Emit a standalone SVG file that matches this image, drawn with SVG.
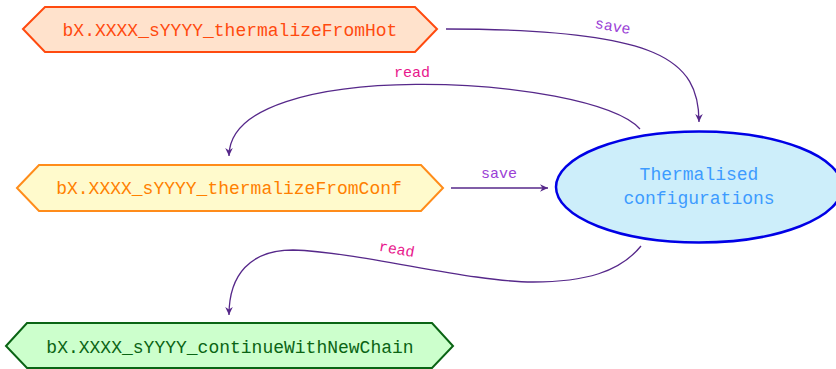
<svg xmlns="http://www.w3.org/2000/svg" width="836" height="369" viewBox="0 0 836 369">
<style>
.mono{font-family:"Liberation Mono","DejaVu Sans Mono",monospace;}
.ntext{font-size:18px;text-anchor:middle;}
.conn{fill:none;stroke:#56288a;stroke-width:1.3;marker-end:url(#arr);}
.save{fill:#9b3fd6;font-size:15px;text-anchor:middle;}
.read{fill:#e8188c;font-size:15px;text-anchor:middle;}
</style>
<defs>
<marker id="arr" markerUnits="userSpaceOnUse" markerWidth="12" markerHeight="10" viewBox="-10 -5 12 10" refX="0" refY="0" orient="auto">
<path d="M0,0 L-8,-3.8 L-5.5,0 L-8,3.8 Z" fill="#56288a"/>
</marker>
</defs>
<rect width="836" height="369" fill="#ffffff"/>
<g id="node-hot">
<polygon points="23,29 45,7 415,7 437,29 415,52 45,52" fill="#ffe2cc" stroke="#ff4a0f" stroke-width="2"/>
<text class="mono ntext" x="230" y="36" fill="#ff4a0f">bX.XXXX_sYYYY_thermalizeFromHot</text>
</g>
<g id="node-conf">
<polygon points="17,188 39,165 421,165 443,188 421,211 39,211" fill="#fffacc" stroke="#ff8c1a" stroke-width="2"/>
<text class="mono ntext" x="229" y="194" fill="#ff8000">bX.XXXX_sYYYY_thermalizeFromConf</text>
</g>
<g id="node-chain">
<polygon points="6,346 27,323 432,323 453,346 432,368 27,368" fill="#ccffcc" stroke="#0a6414" stroke-width="2"/>
<text class="mono ntext" x="230" y="353" fill="#0a6414">bX.XXXX_sYYYY_continueWithNewChain</text>
</g>
<g id="node-thermalised">
<ellipse cx="699" cy="187" rx="143" ry="55.5" fill="#cdeefa" stroke="#0000e6" stroke-width="2.5"/>
<text class="mono ntext" x="699" y="180" fill="#3d9bff">Thermalised</text>
<text class="mono ntext" x="699" y="204" fill="#3d9bff">configurations</text>
</g>
<g id="connectors">
<path class="conn" d="M446,29 C660,29 699,60 699,122"/>
<text class="mono save" transform="translate(612,31) rotate(10)">save</text>
<path class="conn" d="M640,129 C590,75 229,55 229,156"/>
<text class="mono read" x="412" y="77">read</text>
<path class="conn" d="M451,188 L548,188"/>
<text class="mono save" x="499" y="178">save</text>
<path class="conn" d="M641,246 C620,272 585,282 533,282 C470,282 360,252 293,250 C250,250 229,275 229,315"/>
<text class="mono read" transform="translate(396,254) rotate(10)">read</text>
</g>
</svg>
